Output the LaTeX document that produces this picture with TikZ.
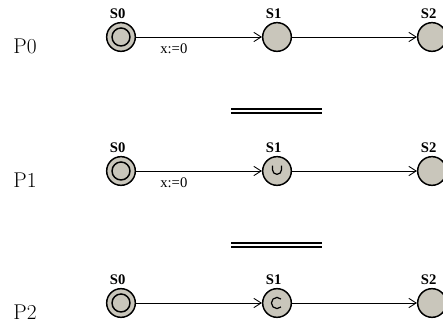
\documentclass[tikz,border=0pt]{standalone}
\usepackage{fontspec}
\newfontfamily\timesfont{Liberation Serif}
\usepackage{xcolor}
\usetikzlibrary{arrows.meta, positioning}
\definecolor{locfill}{RGB}{201,198,187}

\begin{document}
\begin{tikzpicture}[x=0.75pt, y=-0.75pt,
    loc/.style={circle, draw, line width=1.1pt, fill=locfill, minimum size=21.5pt, inner sep=0pt},
    initloc/.style={circle, draw, line width=1.1pt, minimum size=13.5pt, inner sep=0pt},
    slbl/.style={font=\timesfont\bfseries\fontsize{11}{13}\selectfont, xshift=-2.5pt, inner sep=2pt},
    guard/.style={font=\timesfont\fontsize{11}{13}\selectfont, inner sep=1pt},
    proc/.style={font=\fontsize{16}{19}\selectfont, inner sep=0pt},
    trans/.style={line width=0.65pt, -{Straight Barb[length=5.5pt, width=7pt]}},
    sym/.style={line width=0.9pt}]
    \useasboundingbox (0,0) rectangle (443,323);
    \foreach \r/\y in {0/37, 1/171, 2/303} {
        \node (p\r) at (25,\y+9) [proc] {P\r};
        \node (s\r0) at (121,\y) [loc, label={[slbl]above:S0}] {};
        \node (i\r) at (s\r0) [initloc] {};
        \node (s\r1) at (277,\y) [loc, label={[slbl]above:S1}] {};
        \node (s\r2) at (432,\y) [loc, label={[slbl]above:S2}] {};
        \draw[trans] (s\r1) -- (s\r2);
    }
    \draw[trans] (s00) -- node[guard, pos=0.3, below=4pt] {x:=0} (s01);
    \draw[trans] (s10) -- node[guard, pos=0.3, below=4pt] {x:=0} (s11);
    \draw[trans] (s20) -- (s21);
    % urgent and committed marks
    \draw[sym] ([shift={(-3.4pt,4pt)}]s11.center) -- ++(0pt,-3.1pt)
        arc[start angle=180, end angle=360, radius=3.4pt] -- ++(0pt,3.1pt);
    \draw[sym] ([shift={(45:4.2pt)}]s21.center) arc[start angle=45, end angle=315, radius=4.2pt];
    % equivalence signs
    \foreach \y in {109, 113, 243, 247} {
        \draw[line width=1pt] (231,\y) -- (322,\y);
    }
\end{tikzpicture}
\end{document}
